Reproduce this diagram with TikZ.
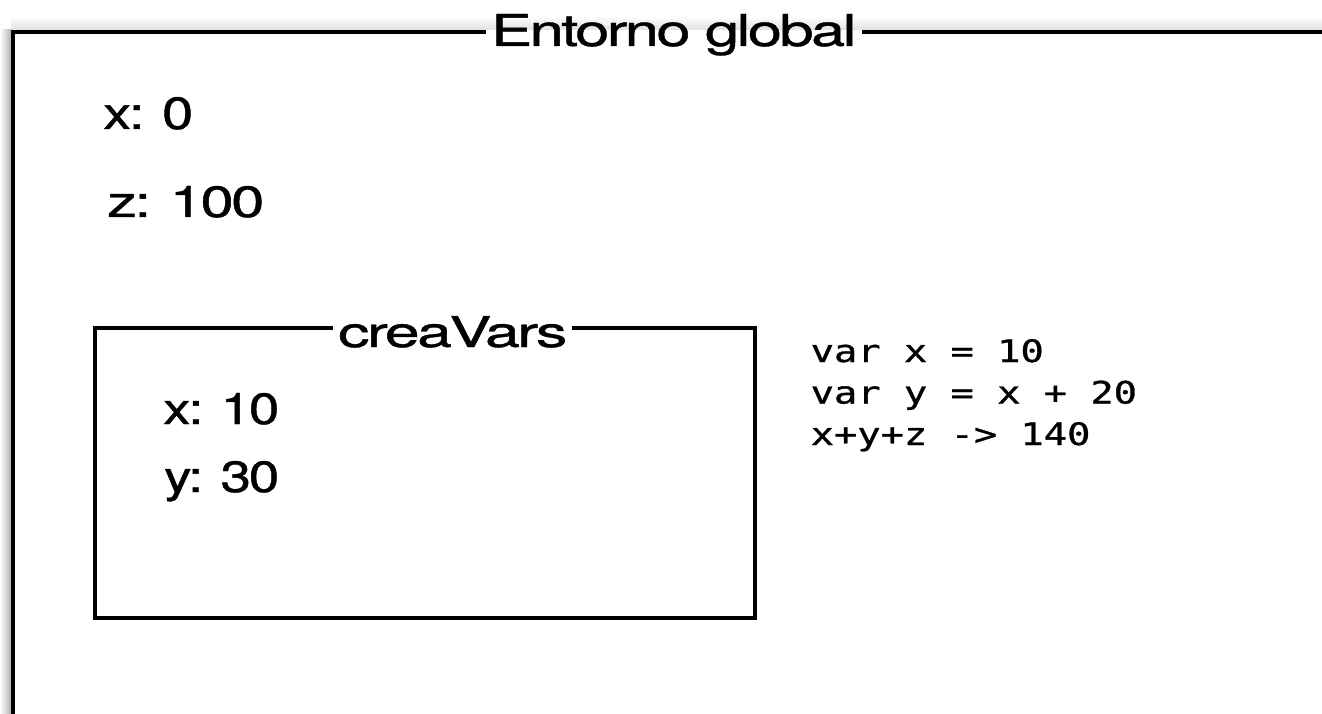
\documentclass[tikz,border=0pt]{standalone}
\usepackage{fontspec}
\usepackage{graphicx}
\setmainfont{TeX Gyre Heros}[FakeBold=0.8, LetterSpace=-4]
\newfontfamily\codefont{DejaVu Sans Mono}[FakeBold=0.9]
\tikzset{
  frame/.style={line width=4pt, line join=miter, draw=black},
  varlabel/.style={inner sep=0pt, anchor=base west},
  frametitle/.style={inner ysep=0pt, inner xsep=5pt, anchor=base west},
  codeline/.style={inner sep=0pt, anchor=base west,
    font=\codefont\fontsize{30.9pt}{41.5pt}\selectfont},
}
% stretched text: width and height of the glyph box in pt
\newcommand\wide[3]{\resizebox{#1pt}{#2pt}{#3}}
\newcommand\code[1]{\scalebox{1.253}[1]{#1}}
\begin{document}
\begin{tikzpicture}[x=1pt, y=-1pt]
  \useasboundingbox (0,0) rectangle (1322,714);
  \fill[white] (0,0) rectangle (1322,714);

  % soft shadow along the outer frame
  \shade[left color=white, right color=black!30] (0,30) rectangle (11,714);
  \shade[top color=white, bottom color=black!12] (11,16) rectangle (1322,30);

  % global environment
  \coordinate (ob) at (13,730);
  \coordinate (or) at (1340,32);
  \node[frametitle] (env) at (486,46) {\wide{365}{32}{Entorno global}};
  \draw[frame] (ob) |- (env.west |- or);
  \draw[frame] (env.east |- or) -- (or);

  \node[varlabel] (xg) at (103,129) {\wide{90}{32}{x: 0}};
  \node[varlabel] (zg) at (107,217) {\wide{157}{31}{z: 100}};

  % function environment
  \coordinate (tl) at (95,328);
  \coordinate (tr) at (755,328);
  \coordinate (bl) at (95,618);
  \coordinate (br) at (755,618);
  \node[frametitle] (fn) at (333,347) {\wide{229}{31}{creaVars}};
  \draw[frame] (fn.west |- tl) -- (tl) -- (bl) -- (br) -- (tr) -- (fn.east |- tr);

  \node[varlabel] (xl) at (163,424) {\wide{116}{31}{x: 10}};
  \node[varlabel] (yl) at (164,492) {\wide{115}{31}{y: 30}};

  % code
  \node[codeline] (c1) at (810.5,362) {\code{var x = 10}};
  \node[codeline] (c2) at (810.5,403.5) {\code{var y = x + 20}};
  \node[codeline] (c3) at (810.5,445) {\code{x+y+z -> 140}};
\end{tikzpicture}
\end{document}
